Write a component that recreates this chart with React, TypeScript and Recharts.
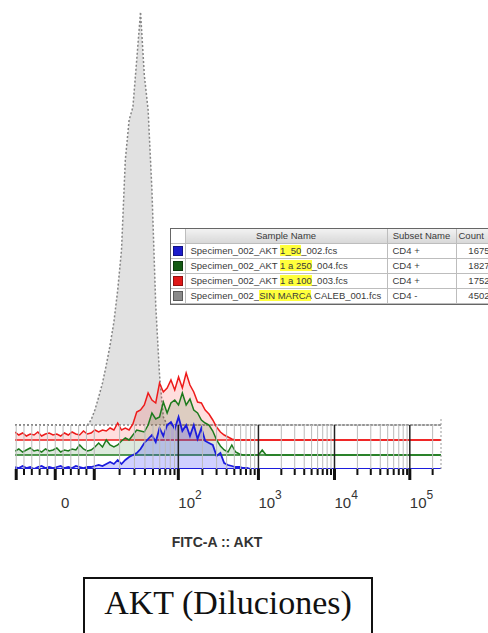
import React from 'react';
import { ComposedChart, Area, XAxis, YAxis, ReferenceLine, Label } from 'recharts';

// Display positions on the biexponential FITC-A axis (decade units)
const bins = [
  -0.2, -0.15, -0.1, -0.05, 0, 0.05, 0.1, 0.15, 0.2, 0.25,
  0.3, 0.35, 0.4, 0.45, 0.5, 0.55, 0.6, 0.65, 0.7, 0.75,
  0.8, 0.85, 0.9, 0.95, 1, 1.05, 1.1, 1.15, 1.2, 1.25,
  1.3, 1.35, 1.4, 1.45, 1.5, 1.55, 1.6, 1.65, 1.7, 1.75,
  1.8, 1.85, 1.9, 1.95, 2, 2.05, 2.1, 2.15, 2.2, 2.25,
  2.3, 2.35, 2.4, 2.45, 2.5, 2.55, 2.6, 2.65, 2.7, 2.75,
  2.8, 2.85, 2.9, 2.95, 3, 3.05, 3.1, 3.15, 3.2, 3.25,
  3.3, 3.4, 5.4,
];

const grayCounts = [
  0, 0, 0, 0, 0, 0, 0, 0, 0, 0,
  0, 0, 0, 0, 0, 0, 0, 0, 0, 0,
  5, 15, 28, 42, 60, 80, 103, 135, 175, 265,
  305, 318, 365, 413, 350, 315, 235, 120, 50, 8,
  0, 0, 0, 0, 0, 0, 0, 0, 0, 0,
  0, 0, 0, 0, 0, 0, 0, 0, 0, 0,
  0, 0, 0, 0, 0, 0, 0, 0, 0, 0,
  0, 0, 0,
];

const redCounts = [
  8, 5, 7, 4, 6, 5, 8, 4, 6, 7,
  5, 6, 4, 7, 5, 8, 6, 5, 9, 6,
  7, 10, 8, 10, 9, 12, 10, 17, 10, 12,
  10, 16, 28, 30, 35, 47, 40, 37, 57, 48,
  52, 60, 50, 63, 52, 67, 55, 48, 38, 37,
  30, 26, 20, 13, 8, 5, 3, 1, 0, 0,
  0, 0, 0, 0, 0, 0, 0, 0, 0, 0,
  0, 0, 0,
];

const greenCounts = [
  4, 6, 3, 5, 7, 4, 5, 3, 6, 4,
  5, 7, 3, 5, 4, 6, 5, 10, 6, 4,
  5, 8, 12, 8, 15, 10, 8, 10, 14, 17,
  15, 20, 25, 24, 23, 30, 42, 36, 38, 53,
  42, 52, 55, 50, 62, 50, 56, 45, 42, 35,
  32, 30, 24, 15, 9, 5, 3, 10, 3, 1,
  0, 0, 0, 0, 0, 5, 0, 0, 0, 0,
  0, 0, 0,
];

const blueCounts = [
  2, 1, 3, 1, 2, 0, 2, 3, 1, 2,
  1, 2, 3, 1, 2, 1, 3, 2, 1, 2,
  2, 3, 4, 3, 5, 7, 5, 9, 5, 9,
  12, 14, 16, 20, 26, 30, 34, 27, 41, 33,
  44, 47, 40, 52, 38, 44, 33, 44, 30, 41,
  28, 26, 24, 13, 16, 6, 4, 3, 2, 2,
  1, 1, 0, 0, 0, 0, 0, 0, 0, 0,
  0, 0, 0,
];

const majorTicks = [-0.184, 0.329, 0.842, 1.947, 3, 4, 4.99];
const minorTicks = [
  -0.082, 0.021, 0.124, 0.226, 0.432, 0.534, 0.637, 0.739,
  1.175, 1.37, 1.508, 1.614, 1.703, 1.776, 1.841, 1.897,
  2.264, 2.45, 2.582, 2.683, 2.766, 2.837, 2.897, 2.951,
  3.301, 3.477, 3.602, 3.699, 3.778, 3.845, 3.903, 3.954,
  4.301, 4.477, 4.602, 4.699, 4.778, 4.845, 4.903, 4.954,
  5.29,
];
const labelTicks = [0.329, 1.947, 3, 4, 4.99];
const labelBases = ['0', '10', '10', '10', '10'];
const labelExps = ['', '2', '3', '4', '5'];
const darkGridTicks = [1.947, 3, 4, 4.99];

const sampleColors = ['#1c1ccc', '#145a14', '#e01818', '#8a8a8a'];
const samplePrefixes = ['Specimen_002_AKT ', 'Specimen_002_AKT ', 'Specimen_002_AKT ', 'Specimen_002_'];
const sampleMarks = ['1_50', '1 a 250', '1 a 100', 'SIN MARCA'];
const sampleSuffixes = ['_002.fcs', '_004.fcs', '_003.fcs', ' CALEB_001.fcs'];
const subsetNames = ['CD4 +', 'CD4 +', 'CD4 +', 'CD4 -'];
const eventCounts = ['1675', '1827', '1752', '4502'];

const STAGGER = { blue: 0, green: 14, red: 29, gray: 44 };

const data = bins.map((u, i) => ({
  u,
  gray: grayCounts[i],
  red: redCounts[i],
  green: greenCounts[i],
  blue: blueCounts[i],
}));

const allTicks = [...majorTicks, ...minorTicks].sort((a, b) => a - b);

const AxisTick = (props: any) => {
  const { x, y, payload } = props;
  const v = payload.value;
  const major = majorTicks.includes(v);
  const li = labelTicks.indexOf(v);
  return (
    <g>
      <line x1={x} y1={y} x2={x} y2={y + (major ? 11 : 6)} stroke="#111" strokeWidth={major ? 3 : 2} />
      {li >= 0 && labelExps[li] === '' && (
        <text x={x + 10} y={y + 39} textAnchor="middle" fontSize={15} fill="#333">
          {labelBases[li]}
        </text>
      )}
      {li >= 0 && labelExps[li] !== '' && (
        <text x={x} y={y + 39} textAnchor="start" fontSize={15} fill="#333">
          {labelBases[li]}
          <tspan dy={-9} fontSize={12}>{labelExps[li]}</tspan>
        </text>
      )}
    </g>
  );
};

const font = '"Liberation Sans", Arial, sans-serif';

const cell: React.CSSProperties = {
  borderRight: '1px solid #bdbdbd',
  borderBottom: '1px solid #bdbdbd',
  padding: '0 4px',
  height: 14,
  whiteSpace: 'nowrap',
  overflow: 'hidden',
};

export default function App() {
  return (
    <div style={{ position: 'absolute', left: 0, top: 0, width: 488, height: 633, overflow: 'hidden', background: '#fff' }}>
      <ComposedChart
        width={488}
        height={633}
        data={data}
        margin={{ top: 12, right: 47, left: 15, bottom: 82 }}
        style={{ fontFamily: font }}
      >
        <XAxis
          dataKey="u"
          type="number"
          domain={[-0.2, 5.4]}
          allowDataOverflow
          ticks={allTicks}
          interval={0}
          tickLine={false}
          axisLine={false}
          tickSize={0}
          tickMargin={0}
          height={82}
          tick={(p: any) => <AxisTick {...p} />}
        >
          <Label value="FITC-A :: AKT" position="insideBottom" offset={4} dx={-11} fill="#333" fontSize={14} fontWeight="bold" />
        </XAxis>
        <YAxis hide type="number" domain={[0, 457]} allowDataOverflow />
        {allTicks.map((t) => (
          <ReferenceLine
            key={'g' + t}
            segment={[{ x: t, y: 0 }, { x: t, y: STAGGER.gray }]}
            stroke={darkGridTicks.includes(t) ? '#222' : '#bbbbbb'}
            strokeWidth={darkGridTicks.includes(t) ? 1.5 : 1}
          />
        ))}
        <ReferenceLine
          segment={[{ x: 5.4, y: 0 }, { x: 5.4, y: 52 }]}
          stroke="#999"
          strokeDasharray="2 2"
          ifOverflow="visible"
        />
        <Area
          id="gray"
          name="gray"
          type="linear"
          dataKey={(d: any) => [STAGGER.gray, STAGGER.gray + d.gray]}
          stroke="#858585"
          strokeWidth={1.5}
          strokeDasharray="2 2"
          fill="#dcdcdc"
          fillOpacity={0.85}
          dot={false}
          activeDot={false}
          isAnimationActive={false}
        />
        <Area
          id="red"
          name="red"
          type="linear"
          dataKey={(d: any) => [STAGGER.red, STAGGER.red + d.red]}
          stroke="#ee1a1a"
          strokeWidth={1.5}
          fill="#ff2020"
          fillOpacity={0.15}
          dot={false}
          activeDot={false}
          isAnimationActive={false}
        />
        <Area
          id="green"
          name="green"
          type="linear"
          dataKey={(d: any) => [STAGGER.green, STAGGER.green + d.green]}
          stroke="#1d7a1d"
          strokeWidth={1.5}
          fill="#1d6a1d"
          fillOpacity={0.15}
          dot={false}
          activeDot={false}
          isAnimationActive={false}
        />
        <Area
          id="blue"
          name="blue"
          type="linear"
          dataKey={(d: any) => [STAGGER.blue, STAGGER.blue + d.blue]}
          stroke="#1c1cdd"
          strokeWidth={1.8}
          fill="#2b2bff"
          fillOpacity={0.22}
          dot={false}
          activeDot={false}
          isAnimationActive={false}
        />
      </ComposedChart>

      <div
        style={{
          position: 'absolute',
          left: 170,
          top: 228,
          width: 322,
          border: '1px solid #666',
          background: '#fff',
          fontFamily: font,
          fontSize: 9.5,
          color: '#3a3a3a',
          lineHeight: '14px',
        }}
      >
        <table style={{ borderCollapse: 'collapse', tableLayout: 'fixed', width: 322 }}>
          <colgroup>
            <col style={{ width: 14 }} />
            <col style={{ width: 202 }} />
            <col style={{ width: 69 }} />
            <col style={{ width: 37 }} />
          </colgroup>
          <thead>
            <tr>
              <th style={{ ...cell, background: '#fff', padding: 0 }}></th>
              <th style={{ ...cell, background: 'linear-gradient(#f2f2f2, #d8d8d8)', fontWeight: 'normal', textAlign: 'center' }}>Sample Name</th>
              <th style={{ ...cell, background: 'linear-gradient(#f2f2f2, #d8d8d8)', fontWeight: 'normal', textAlign: 'center' }}>Subset Name</th>
              <th style={{ ...cell, background: 'linear-gradient(#f2f2f2, #d8d8d8)', fontWeight: 'normal', textAlign: 'left', padding: '0 2px' }}>Count</th>
            </tr>
          </thead>
          <tbody>
            {sampleColors.map((c, i) => (
              <tr key={i}>
                <td style={{ ...cell, height: 14, padding: '0 2px' }}>
                  <div style={{ width: 8, height: 8, background: c, border: '1px solid rgba(0,0,0,0.35)' }} />
                </td>
                <td style={{ ...cell, paddingLeft: 5 }}>
                  {samplePrefixes[i]}
                  <span style={{ background: '#ffff3c' }}>{sampleMarks[i]}</span>
                  {sampleSuffixes[i]}
                </td>
                <td style={{ ...cell, paddingLeft: 5 }}>{subsetNames[i]}</td>
                <td style={{ ...cell, textAlign: 'right', padding: '0 3px 0 0' }}>{eventCounts[i]}</td>
              </tr>
            ))}
          </tbody>
        </table>
      </div>

      <div
        style={{
          position: 'absolute',
          left: 83,
          top: 577,
          width: 286,
          height: 70,
          border: '2px solid #111',
          textAlign: 'center',
          fontFamily: '"Liberation Serif", "Times New Roman", serif',
          fontSize: 34,
          lineHeight: '40px',
          paddingTop: 4,
          color: '#111',
          boxSizing: 'content-box',
        }}
      >
        AKT (Diluciones)
      </div>
    </div>
  );
}
